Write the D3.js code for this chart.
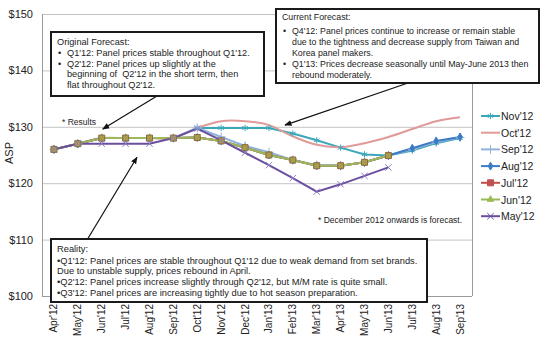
<!DOCTYPE html>
<html>
<head>
<meta charset="utf-8">
<script src="https://cdn.jsdelivr.net/npm/d3@7"></script>
<style>
body{margin:0;background:#fff;}
svg{display:block;font-family:"Liberation Sans",Arial,sans-serif;}
text{white-space:pre;}
</style>
</head>
<body>
<div class="canvas"></div>
<script>
// categories
const months = ["Apr'12","May'12","Jun'12","Jul'12","Aug'12","Sep'12","Oct'12","Nov'12","Dec'12",
  "Jan'13","Feb'13","Mar'13","Apr'13","May'13","Jun'13","Jul'13","Aug'13","Sep'13"];
const yTicks = [100,110,120,130,140,150];

// forecast series (ASP, $)
const nov12 = [126,127,128,128,128,128,129.8,129.8,129.8,129.8,128.8,127.6,126.3,125.1,124.9,125.8,127.1,128.0];
const oct12 = [126,127,128,128,128,128,129.8,131,131,130.3,128.3,126.8,126.4,127.1,128.2,129.6,131.0,131.7];
const sep12 = [126,127,128,128,128,128,129.8,128.2,126.6,125.5,124.1,123.2,123.1,123.7,124.9,126.0,127.3,128.1];
const aug12 = [126,127,128,128,128,128,128.1,127.5,126.3,125,124.1,123.1,123.1,123.7,124.9,126.2,127.5,128.2];
const jul12 = [126,127,128,128,128,128,128.1,127.5,126.3,125,124.1,123.1,123.1,123.7,124.9];
const jun12 = [126,127,128,128,128,128,128.1,127.5,126.3,125,124.1,123.1,123.1,123.7,124.9];
const may12 = [126,127,127,127,127,128,129.7,127.6,125.4,123.2,120.9,118.5,119.8,121.3,122.8];

const seriesNames = ["Nov'12","Oct'12","Sep'12","Aug'12","Jul'12","Jun'12","May'12"];
const seriesValues = [nov12, oct12, sep12, aug12, jul12, jun12, may12];

const width = 550, height = 352;
const plot = {left: 42, right: 472, top: 14, bottom: 296};

const x = d3.scalePoint().domain(months).range([plot.left, plot.right]).padding(0.5);
const y = d3.scaleLinear().domain([100, 150]).range([plot.bottom, plot.top]);

// styles per series
const styles = {
  "Nov'12": {color: "#3ba7bb", sym: d3.symbolAsterisk, size: 28, fill: false, curve: d3.curveLinear},
  "Oct'12": {color: "#e09a9a", sym: null, curve: d3.curveCatmullRom},
  "Sep'12": {color: "#93b2da", sym: d3.symbolPlus, size: 28, fill: false, curve: d3.curveLinear},
  "Aug'12": {color: "#3c7bc4", sym: d3.symbolDiamond, size: 18, fill: true, curve: d3.curveLinear},
  "Jul'12": {color: "#c0504d", sym: d3.symbolSquare, size: 36, fill: true, curve: d3.curveLinear,
             mFill: "#a99d4c", mStroke: "#8c6a3e"},
  "Jun'12": {color: "#9bbb59", sym: d3.symbolTriangle, size: 18, fill: true, curve: d3.curveLinear},
  "May'12": {color: "#6a4f9e", sym: d3.symbolTimes, size: 28, fill: false, curve: d3.curveLinear,
             mStroke: "#8f7cc0"}
};

const svg = d3.select('.canvas')
  .append('svg')
  .attr('width', width)
  .attr('height', height)
  .attr('viewBox', [0, 0, width, height]);

svg.append('defs').append('marker')
  .attr('id', 'arr')
  .attr('viewBox', '0 0 10 10')
  .attr('refX', 9).attr('refY', 5)
  .attr('markerWidth', 6).attr('markerHeight', 6)
  .attr('orient', 'auto')
  .append('path').attr('d', 'M0,1 L10,5 L0,9 z').attr('fill', '#111');

// gridlines
svg.append('g').selectAll('line')
  .data(yTicks.filter(d => d > 100))
  .join('line')
  .attr('x1', plot.left).attr('x2', plot.right)
  .attr('y1', d => y(d) + 0.5).attr('y2', d => y(d) + 0.5)
  .attr('stroke', '#c4c4c4');

// axes frame
svg.append('line').attr('x1', plot.left + 0.5).attr('x2', plot.left + 0.5)
  .attr('y1', plot.top).attr('y2', plot.bottom).attr('stroke', '#9a9a9a');
svg.append('line').attr('x1', plot.right + 0.5).attr('x2', plot.right + 0.5)
  .attr('y1', plot.top).attr('y2', plot.bottom).attr('stroke', '#9a9a9a');
svg.append('line').attr('x1', plot.left).attr('x2', plot.right)
  .attr('y1', plot.bottom + 0.5).attr('y2', plot.bottom + 0.5).attr('stroke', '#9a9a9a');

// y labels
svg.append('g').selectAll('text')
  .data(yTicks)
  .join('text')
  .attr('x', 33).attr('y', d => y(d) + 4)
  .attr('text-anchor', 'end')
  .attr('font-size', 11)
  .attr('fill', '#222')
  .text(d => '$' + d);

svg.append('text')
  .attr('transform', 'translate(13,153) rotate(-90)')
  .attr('text-anchor', 'middle')
  .attr('font-size', 11)
  .attr('fill', '#222')
  .text('ASP');

// x labels
svg.append('g').selectAll('text')
  .data(months)
  .join('text')
  .attr('transform', d => `translate(${x(d) + 3.5},304) rotate(-90)`)
  .attr('text-anchor', 'end')
  .attr('font-size', 10)
  .attr('fill', '#222')
  .text(d => d);

// lines
const line = (curve) => d3.line().x((d, i) => x(months[i])).y(d => y(d)).curve(curve);

seriesNames.forEach((name, k) => {
  const s = styles[name];
  svg.append('path')
    .attr('d', line(s.curve)(seriesValues[k]))
    .attr('fill', 'none')
    .attr('stroke', s.color)
    .attr('stroke-width', 2);
});

// markers (Jul'12 squares sit over the Jun'12 triangles)
const markerOrder = ["Nov'12","Oct'12","Sep'12","Aug'12","Jun'12","Jul'12","May'12"];
markerOrder.forEach(name => {
  const s = styles[name];
  if (!s.sym) return;
  const vals = seriesValues[seriesNames.indexOf(name)];
  svg.append('g').selectAll('path')
    .data(vals)
    .join('path')
    .attr('transform', (d, i) => `translate(${x(months[i])},${y(d)})`)
    .attr('d', d3.symbol(s.sym, s.size))
    .attr('fill', s.fill ? (s.mFill || s.color) : 'none')
    .attr('stroke', s.mStroke || s.color)
    .attr('stroke-width', 1);
});

// legend
const legend = svg.append('g').selectAll('g')
  .data(seriesNames)
  .join('g')
  .attr('transform', (d, i) => `translate(481,${116 + i * 16.7})`);
legend.append('line')
  .attr('x1', 0).attr('x2', 19)
  .attr('stroke', d => styles[d].color)
  .attr('stroke-width', 2);
legend.filter(d => styles[d].sym).append('path')
  .attr('transform', 'translate(9.5,0)')
  .attr('d', d => d3.symbol(styles[d].sym, styles[d].size)())
  .attr('fill', d => styles[d].fill ? styles[d].color : 'none')
  .attr('stroke', d => styles[d].color);
legend.append('text')
  .attr('x', 20).attr('y', 4)
  .attr('font-size', 10.5)
  .attr('fill', '#222')
  .text(d => d);

// notes
svg.append('text').attr('x', 62).attr('y', 125).attr('font-size', 8.5).attr('fill', '#222')
  .text('* Results');
svg.append('text').attr('x', 318).attr('y', 223).attr('font-size', 8.5).attr('fill', '#222')
  .text('* December 2012 onwards is forecast.');

// arrows
const arrows = [
  {x1: 157, y1: 96, x2: x("Jun'12") + 1, y2: y(129.6)},
  {x1: 408, y1: 83, x2: 285, y2: y(130.3)},
  {x1: 87, y1: 240, x2: 137, y2: y(124.6)}
];
svg.append('g').selectAll('line')
  .data(arrows)
  .join('line')
  .attr('x1', d => d.x1).attr('y1', d => d.y1)
  .attr('x2', d => d.x2).attr('y2', d => d.y2)
  .attr('stroke', '#111').attr('stroke-width', 1.2)
  .attr('marker-end', 'url(#arr)');

// annotation boxes
const boxes = [
  {x: 51, y: 32, w: 213, h: 64, fs: 9.2, lines: [
    {t: "Original Forecast:", x: 57, y: 45},
    {t: "\u2022", x: 58, y: 56}, {t: "Q1'12: Panel prices stable throughout Q1'12.", x: 67, y: 56},
    {t: "\u2022", x: 58, y: 66.5}, {t: "Q2'12: Panel prices up slightly at the", x: 67, y: 66.5},
    {t: "beginning of  Q2'12 in the short term, then", x: 67, y: 77},
    {t: "flat throughout Q2'12.", x: 67, y: 87.5}
  ]},
  {x: 276, y: 9, w: 263, h: 74, fs: 8.8, lines: [
    {t: "Current Forecast:", x: 282, y: 20},
    {t: "\u2022", x: 283, y: 34}, {t: "Q4'12: Panel prices continue to increase or remain stable", x: 292, y: 34},
    {t: "due to the tightness and decrease supply from Taiwan and", x: 292, y: 45},
    {t: "Korea panel makers.", x: 292, y: 55.5},
    {t: "\u2022", x: 283, y: 67}, {t: "Q1'13: Prices decrease seasonally until May-June 2013 then", x: 292, y: 67},
    {t: "rebound moderately.", x: 292, y: 77.5}
  ]},
  {x: 51, y: 239, w: 376, h: 63, fs: 9.3, lines: [
    {t: "Reality:", x: 57, y: 252},
    {t: "\u2022Q1'12: Panel prices are stable throughout Q1'12 due to weak demand from set brands.", x: 57, y: 263.5},
    {t: "Due to unstable supply, prices rebound in April.", x: 57, y: 274},
    {t: "\u2022Q2'12: Panel prices increase slightly through Q2'12, but M/M rate is quite small.", x: 57, y: 285},
    {t: "\u2022Q3'12: Panel prices are increasing tightly due to hot season preparation.", x: 57, y: 296}
  ]}
];

boxes.forEach(b => {
  svg.append('rect')
    .attr('x', b.x).attr('y', b.y).attr('width', b.w).attr('height', b.h)
    .attr('fill', '#fff').attr('stroke', '#1a1a1a').attr('stroke-width', 2);
  svg.append('g').selectAll('text')
    .data(b.lines)
    .join('text')
    .attr('x', d => d.x).attr('y', d => d.y)
    .attr('font-size', b.fs)
    .attr('fill', '#222')
    .text(d => d.t);
});
</script>
</body>
</html>
